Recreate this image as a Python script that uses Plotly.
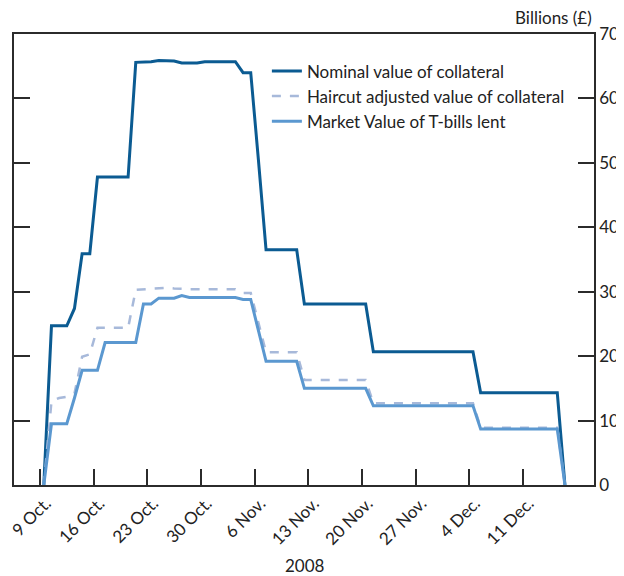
import pandas as pd
import plotly.graph_objects as go

# daily observations, 9 Oct 2008 to 16 Dec 2008 (plotted at midday)
dates = pd.date_range("2008-10-09 12:00", periods=69, freq="D")

nominal = [0, 24.7, 24.7, 24.7, 27.4, 35.9, 35.9, 47.8, 47.8, 47.8, 47.8, 47.8,   # 9-20 Oct
           65.6, 65.6, 65.7, 65.9, 65.9, 65.8, 65.5, 65.5, 65.5, 65.7, 65.7,     # 21-31 Oct
           65.7, 65.7, 65.7, 64.0, 64.0, 50.5, 36.5, 36.5, 36.5, 36.5, 36.5,     # 1-11 Nov
           28.1, 28.1, 28.1, 28.1, 28.1, 28.1, 28.1, 28.1, 28.1,                 # 12-20 Nov
           20.7, 20.7, 20.7, 20.7, 20.7, 20.7, 20.7, 20.7, 20.7, 20.7, 20.7,     # 21 Nov-1 Dec
           20.7, 20.7, 20.7, 14.3, 14.3, 14.3, 14.3, 14.3, 14.3, 14.3, 14.3,     # 2-12 Dec
           14.3, 14.3, 14.3, 0]                                                  # 13-16 Dec

haircut = [0, 13.0, 13.5, 13.7, 14.2, 19.9, 20.3, 24.4, 24.4, 24.4, 24.4, 24.4,
           30.3, 30.4, 30.5, 30.6, 30.6, 30.5, 30.4, 30.4, 30.4, 30.4, 30.4,
           30.4, 30.4, 30.4, 29.8, 29.8, 25.2, 20.6, 20.6, 20.6, 20.6, 20.6,
           16.3, 16.3, 16.3, 16.3, 16.3, 16.3, 16.3, 16.3, 16.3,
           12.7, 12.7, 12.7, 12.7, 12.7, 12.7, 12.7, 12.7, 12.7, 12.7, 12.7,
           12.7, 12.7, 12.7, 8.9, 8.9, 8.9, 8.9, 8.9, 8.9, 8.9, 8.9,
           8.9, 8.9, 8.9, 0]

market = [0, 9.5, 9.5, 9.5, 13.5, 17.8, 17.8, 17.8, 22.1, 22.1, 22.1, 22.1,
          22.1, 28.1, 28.1, 29.0, 29.0, 29.0, 29.4, 29.1, 29.1, 29.1, 29.1,
          29.1, 29.1, 29.1, 28.8, 28.8, 24.0, 19.2, 19.2, 19.2, 19.2, 19.2,
          15.0, 15.0, 15.0, 15.0, 15.0, 15.0, 15.0, 15.0, 15.0,
          12.3, 12.3, 12.3, 12.3, 12.3, 12.3, 12.3, 12.3, 12.3, 12.3, 12.3,
          12.3, 12.3, 12.3, 8.7, 8.7, 8.7, 8.7, 8.7, 8.7, 8.7, 8.7,
          8.7, 8.7, 8.7, 0]

tick_dates = pd.date_range("2008-10-09", periods=10, freq="7D")
tick_labels = ["9 Oct.", "16 Oct.", "23 Oct.", "30 Oct.", "6 Nov.",
               "13 Nov.", "20 Nov.", "27 Nov.", "4 Dec.", "11 Dec."]

font = "Lato"
fsize = 17
axis_col = "#2b2b2b"

fig = go.Figure()
fig.add_trace(go.Scatter(x=dates, y=nominal, mode="lines", name="Nominal value of collateral",
                         line=dict(color="#0b5b92", width=3)))
fig.add_trace(go.Scatter(x=dates, y=haircut, mode="lines", name="Haircut adjusted value of collateral",
                         line=dict(color="#a7b9da", width=2.5, dash="dash")))
fig.add_trace(go.Scatter(x=dates, y=market, mode="lines", name="Market Value of T-bills lent",
                         line=dict(color="#5b98d0", width=3)))
# invisible trace so the left axis gets drawn
fig.add_trace(go.Scatter(x=[dates[0]], y=[0], yaxis="y2", mode="markers",
                         marker=dict(opacity=0), showlegend=False, hoverinfo="skip"))

# page body adds 8px, so the figure is 616x568
fig.update_layout(
    width=616, height=568,
    margin=dict(l=6, r=30, t=26, b=91, autoexpand=False),
    paper_bgcolor="white", plot_bgcolor="white",
    font=dict(family=font, size=fsize, color="#222"),
    showlegend=True,
    legend=dict(x=0.436, y=0.957, xanchor="left", yanchor="top",
                bgcolor="rgba(0,0,0,0)", font=dict(size=fsize), tracegroupgap=0),
    xaxis=dict(range=[pd.Timestamp("2008-10-05 14:40"), pd.Timestamp("2008-12-20 07:00")],
               tickvals=tick_dates, ticktext=tick_labels, tickangle=-45,
               ticks="inside", ticklen=16, tickwidth=2, tickcolor=axis_col,
               showline=True, linecolor=axis_col, linewidth=1.5, mirror=True,
               showgrid=False, zeroline=False, tickfont=dict(size=fsize), automargin=False,
               ticklabeloverflow="allow", ticklabelshift=6),
    yaxis=dict(range=[0, 70], side="right", tickvals=list(range(0, 71, 10)),
               ticks="inside", ticklen=16, tickwidth=2, tickcolor=axis_col,
               showline=True, linecolor=axis_col, linewidth=1.5,
               showgrid=False, zeroline=False, tickfont=dict(size=fsize), automargin=False,
               ticklabeloverflow="allow"),
    yaxis2=dict(range=[0, 70], side="left", overlaying="y", tickvals=list(range(10, 61, 10)),
                ticks="inside", ticklen=16, tickwidth=2, tickcolor=axis_col,
                showline=True, linecolor=axis_col, linewidth=1.5,
                showticklabels=False, showgrid=False, zeroline=False, automargin=False),
    annotations=[
        dict(text="Billions (£)", xref="paper", yref="paper", x=1.0, y=1.0,
             xanchor="right", yanchor="bottom", yshift=4, showarrow=False, font=dict(size=fsize)),
        dict(text="2008", xref="paper", yref="paper", x=0.502, y=-0.178,
             xanchor="center", yanchor="middle", showarrow=False, font=dict(size=fsize)),
    ],
)

fig.write_html("out.html")
